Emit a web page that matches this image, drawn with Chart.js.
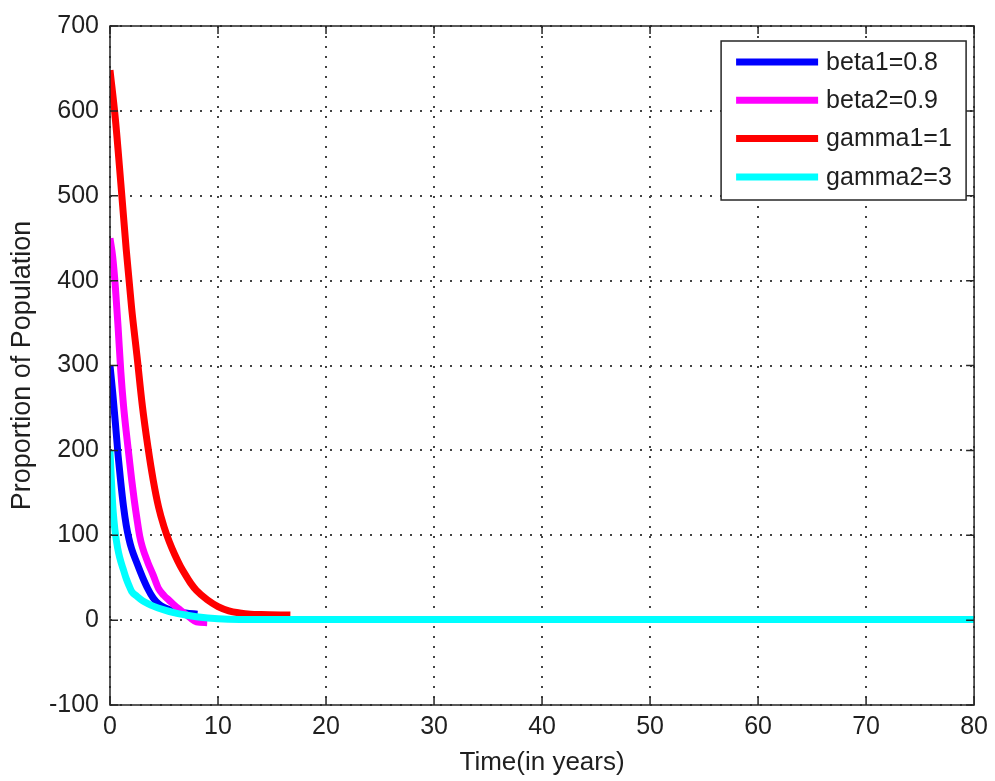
<!DOCTYPE html>
<html>
<head>
<meta charset="utf-8">
<script src="https://cdn.jsdelivr.net/npm/chart.js@4/dist/chart.umd.min.js"></script>
<style>
  html, body { margin: 0; padding: 0; background: #ffffff; }
  #wrap { width: 995px; height: 781px; }
</style>
</head>
<body>
<div id="wrap"><canvas id="c" width="995" height="781"></canvas></div>
<script>
// Series names and colours
const seriesLabels = ['beta1=0.8', 'beta2=0.9', 'gamma1=1', 'gamma2=3'];
const seriesColors = ['#0000ff', '#ff00ff', '#ff0000', '#00ffff'];

// beta1 = 0.8
const beta1Time   = [0, 0.25, 0.5, 0.75, 1, 1.25, 1.5, 1.75, 2, 2.5, 3, 3.5, 4, 4.5, 5, 6, 7, 8.1];
const beta1Values = [300, 268, 232, 194, 162, 134, 112, 96, 84, 67, 51, 37, 26, 19, 15, 10.5, 8.5, 7];

// beta2 = 0.9
const beta2Time   = [0, 0.25, 0.5, 0.75, 1, 1.25, 1.5, 1.75, 2, 2.25, 2.5, 2.75, 3, 3.5, 4, 4.5, 5, 5.5, 6, 6.5, 7, 7.5, 8, 9];
const beta2Values = [450, 428, 392, 345, 293, 253, 222, 194, 166, 141, 119, 99, 86, 68, 53, 37, 29, 23, 17, 12, 7, 2, -2, -3];

// gamma1 = 1
const gamma1Time   = [0, 0.5, 1, 1.5, 2, 2.5, 3, 3.5, 4, 4.5, 5, 5.5, 6, 6.5, 7, 7.5, 8, 9, 10, 11, 12, 13, 14, 16.7];
const gamma1Values = [648, 590, 515, 437, 368, 311, 252, 205, 165, 133, 110, 92, 77, 64, 53, 43, 35, 24, 16, 11, 8.5, 7, 6.5, 6];

// gamma2 = 3
const gamma2Time   = [0, 0.1, 0.2, 0.3, 0.45, 0.6, 0.8, 1.0, 1.25, 1.5, 1.75, 2.0, 2.5, 3.0, 3.5, 4, 5, 6, 7, 8, 10, 12, 80];
const gamma2Values = [200, 172, 147, 127, 107, 93, 79, 69, 59, 49, 41, 34, 28, 23, 19.5, 16.5, 12, 8.5, 6, 4, 1.5, 0.8, 0.8];

// Axis ticks
const xTicks = [0, 10, 20, 30, 40, 50, 60, 70, 80];
const yTicks = [-100, 0, 100, 200, 300, 400, 500, 600, 700];

const FONT = '"Liberation Sans", Arial, Helvetica, sans-serif';
const TEXT_COLOR = '#1f1f1f';

function toPoints(ts, vs) {
  return ts.map((t, i) => ({ x: t, y: vs[i] }));
}

const seriesData = [
  toPoints(beta1Time, beta1Values),
  toPoints(beta2Time, beta2Values),
  toPoints(gamma1Time, gamma1Values),
  toPoints(gamma2Time, gamma2Values)
];

// Later series are painted over earlier ones
const datasets = seriesLabels.map((label, i) => ({
  label: label,
  data: seriesData[i],
  borderColor: seriesColors[i],
  backgroundColor: seriesColors[i],
  borderWidth: 7,
  pointRadius: 0,
  fill: false,
  cubicInterpolationMode: 'monotone',
  borderCapStyle: 'butt',
  borderJoinStyle: 'round',
  order: seriesLabels.length - i
}));

// Box around the axes with inward tick marks on all four sides
const axesFrame = {
  id: 'axesFrame',
  afterDatasetsDraw(chart) {
    const { ctx, chartArea: a, scales } = chart;
    const xs = scales.x, ys = scales.y;
    const len = 8;
    ctx.save();
    ctx.strokeStyle = '#262626';
    ctx.lineWidth = 1.5;
    ctx.strokeRect(a.left, a.top, a.right - a.left, a.bottom - a.top);
    ctx.beginPath();
    xTicks.forEach(v => {
      const px = xs.getPixelForValue(v);
      ctx.moveTo(px, a.bottom); ctx.lineTo(px, a.bottom - len);
      ctx.moveTo(px, a.top);    ctx.lineTo(px, a.top + len);
    });
    yTicks.forEach(v => {
      const py = ys.getPixelForValue(v);
      ctx.moveTo(a.left, py);  ctx.lineTo(a.left + len, py);
      ctx.moveTo(a.right, py); ctx.lineTo(a.right - len, py);
    });
    ctx.stroke();
    ctx.restore();
  }
};

// Boxed legend in the upper right corner of the axes
const boxedLegend = {
  id: 'boxedLegend',
  afterDraw(chart) {
    const { ctx, chartArea: a } = chart;
    const boxRight = a.right - 8;
    const boxLeft = boxRight - 245;
    const boxTop = a.top + 15;
    const rowGap = 38.3;
    const firstRow = boxTop + 21;
    const boxBottom = boxTop + 159;
    ctx.save();
    ctx.fillStyle = '#ffffff';
    ctx.fillRect(boxLeft, boxTop, boxRight - boxLeft, boxBottom - boxTop);
    ctx.strokeStyle = '#262626';
    ctx.lineWidth = 1.5;
    ctx.strokeRect(boxLeft, boxTop, boxRight - boxLeft, boxBottom - boxTop);
    ctx.font = '25px ' + FONT;
    ctx.textBaseline = 'middle';
    ctx.textAlign = 'left';
    chart.data.datasets.forEach((ds, i) => {
      const yRow = firstRow + i * rowGap;
      ctx.strokeStyle = ds.borderColor;
      ctx.lineWidth = 7;
      ctx.lineCap = 'butt';
      ctx.beginPath();
      ctx.moveTo(boxLeft + 15, yRow);
      ctx.lineTo(boxLeft + 97, yRow);
      ctx.stroke();
      ctx.fillStyle = TEXT_COLOR;
      ctx.fillText(ds.label, boxLeft + 105, yRow + 1);
    });
    ctx.restore();
  }
};

new Chart(document.getElementById('c'), {
  type: 'line',
  data: { datasets: datasets },
  options: {
    responsive: false,
    animation: false,
    devicePixelRatio: 1,
    layout: { padding: { left: 0, top: 20, right: 20, bottom: 0 } },
    plugins: {
      legend: { display: false },
      tooltip: { enabled: false }
    },
    scales: {
      x: {
        type: 'linear',
        min: 0,
        max: 80,
        afterBuildTicks: s => { s.ticks = xTicks.map(v => ({ value: v })); },
        afterFit: s => { s.height = 76; },
        ticks: {
          font: { family: FONT, size: 25 },
          color: TEXT_COLOR,
          padding: 7,
          maxRotation: 0,
          autoSkip: false
        },
        grid: {
          color: '#444444',
          lineWidth: 2,
          drawTicks: false
        },
        border: { display: false, dash: [2, 8] },
        title: {
          display: true,
          text: 'Time(in years)',
          font: { family: FONT, size: 26 },
          color: TEXT_COLOR,
          padding: { top: 0, bottom: 3 }
        }
      },
      y: {
        type: 'linear',
        min: -100,
        max: 700,
        afterBuildTicks: s => { s.ticks = yTicks.map(v => ({ value: v })); },
        afterFit: s => { s.width = 110; },
        ticks: {
          font: { family: FONT, size: 25 },
          color: TEXT_COLOR,
          padding: 11,
          autoSkip: false
        },
        grid: {
          color: '#444444',
          lineWidth: 2,
          drawTicks: false
        },
        border: { display: false, dash: [2, 8] },
        title: {
          display: true,
          text: 'Proportion of Population',
          font: { family: FONT, size: 27 },
          color: TEXT_COLOR,
          padding: { top: 6, bottom: 0 }
        }
      }
    }
  },
  plugins: [axesFrame, boxedLegend]
});
</script>
</body>
</html>
